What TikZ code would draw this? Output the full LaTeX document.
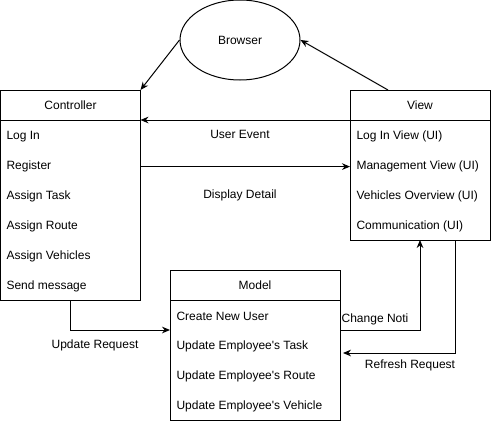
\documentclass[tikz,border=0pt]{standalone}
\usepackage{fontspec}
\setmainfont{Liberation Sans}
\usetikzlibrary{shapes.geometric,arrows.meta,calc}
\begin{document}
\begin{tikzpicture}[x=0.75pt,y=-0.75pt, line width=0.75pt,
 box/.style={draw, inner sep=0, outer sep=0},
 item/.style={anchor=west, inner sep=0, yshift=-1.2pt, font=\fontsize{9}{11}\selectfont},
 lbl/.style={inner sep=1pt, font=\fontsize{9}{11}\selectfont},
 arr/.style={-{Stealth[length=6pt,width=5pt]}}]
\useasboundingbox (0,0) rectangle (491,421);
% boxes
\node[box, minimum width=105pt, minimum height=157.5pt] (ctrl) at (70.5,195) {};
\node[box, minimum width=105pt, minimum height=112.5pt] (view) at (420,165) {};
\node[box, minimum width=127.5pt, minimum height=112.5pt] (model) at (255,345) {};
\node[draw, ellipse, inner sep=0, minimum width=90pt, minimum height=60pt, font=\fontsize{9}{11}\selectfont] (browser) at (240,40) {Browser};
% header lines
\draw ([yshift=-22.5pt]ctrl.north west) -- ([yshift=-22.5pt]ctrl.north east);
\draw ([yshift=-22.5pt]view.north west) -- ([yshift=-22.5pt]view.north east);
\draw ([yshift=-22.5pt]model.north west) -- ([yshift=-22.5pt]model.north east);
% headers
\node[lbl] (ch) at (70.5,105) {Controller};
\node[lbl] (vh) at (420,105) {View};
\node[lbl] (mh) at (255,285) {Model};
% controller items
\node[item] (c1) at (6,135) {Log In};
\node[item] (c2) at (6,165) {Register};
\node[item] (c3) at (6,195) {Assign Task};
\node[item] (c4) at (6,225) {Assign Route};
\node[item] (c5) at (6,255) {Assign Vehicles};
\node[item] (c6) at (6,285) {Send message};
% view items
\node[item] (v1) at (356,135) {Log In View (UI)};
\node[item] (v2) at (356,165) {Management View (UI)};
\node[item] (v3) at (356,195) {Vehicles Overview (UI)};
\node[item] (v4) at (356,225) {Communication (UI)};
% model items
\node[item] (m1) at (176,315) {Create New User};
\node[item] (m2) at (176,345) {Update Employee\textquotesingle s Task};
\node[item] (m3) at (176,375) {Update Employee\textquotesingle s Route};
\node[item] (m4) at (176,405) {Update Employee\textquotesingle s Vehicle};
% connectors
\draw[arr] (browser.west) -- (ctrl.north east);
\draw[arr] ($(view.north west)+(38,0)$) -- (browser.east);
\draw[arr] ([yshift=-22.5pt]view.north west) -- ([yshift=-22.5pt]ctrl.north east);
\draw[arr] (ctrl.east |- c2) -- (view.west |- v2);
\draw[arr] (ctrl.south) |- ($(model.west)+(0,-15)$);
\draw[arr] ($(model.east)+(0,-15)$) -| ($(view.south west)+(70,0)$);
\draw[arr] ($(view.south west)+(105,0)$) |- ($(model.east)+(3,8)$);
% connector labels
\node[lbl] (l1) at (240,134) {User Event};
\node[lbl] (l2) at (240,195) {Display Detail};
\node[lbl] (l3) at (95,345) {Update Request};
\node[lbl] (l4) at (375,319) {Change Noti};
\node[lbl] (l5) at (410,365) {Refresh Request};
\end{tikzpicture}
\end{document}
